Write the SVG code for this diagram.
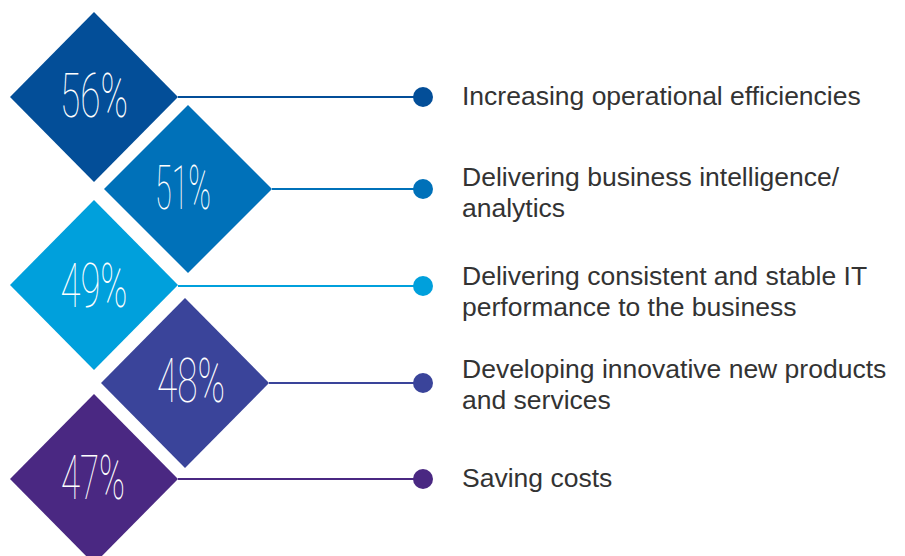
<svg xmlns="http://www.w3.org/2000/svg" width="905" height="556" viewBox="0 0 905 556">
<style>
.pct{font-family:Roboto,"Liberation Sans",sans-serif;font-weight:100;font-size:61px;fill:#fff;text-anchor:middle}
.lbl{font-family:"Liberation Sans",Arial,sans-serif;font-size:26.5px;fill:#333}
.ln{stroke-width:2.2;fill:none}
</style>
<rect width="905" height="556" fill="#fff"/>
<g id="connectors">
<line class="ln" x1="178" y1="97" x2="423" y2="97" stroke="#034E98"/>
<line class="ln" x1="272" y1="189" x2="423" y2="189" stroke="#0071B9"/>
<line class="ln" x1="178" y1="286" x2="423" y2="286" stroke="#00A0DC"/>
<line class="ln" x1="269" y1="383" x2="423" y2="383" stroke="#3A449A"/>
<line class="ln" x1="178" y1="479" x2="423" y2="479" stroke="#4A2882"/>
<circle cx="423" cy="97" r="10" fill="#034E98"/>
<circle cx="423" cy="189" r="10" fill="#0071B9"/>
<circle cx="423" cy="286" r="10" fill="#00A0DC"/>
<circle cx="423" cy="383" r="10" fill="#3A449A"/>
<circle cx="423" cy="479" r="10" fill="#4A2882"/>
</g>
<g id="n56">
<polygon points="94,12 178,97 94,182 10,97" fill="#034E98"/>
<text class="pct" x="94" y="117" textLength="68" lengthAdjust="spacingAndGlyphs">56%</text>
<text class="lbl" x="462" y="105">Increasing operational efficiencies</text>
</g>
<g id="n51">
<polygon points="188,105 272,189 188,273 104,189" fill="#0071B9"/>
<text class="pct" x="183" y="209" textLength="56" lengthAdjust="spacingAndGlyphs">51%</text>
<text class="lbl" x="462" y="186">Delivering business intelligence/</text>
<text class="lbl" x="462" y="217">analytics</text>
</g>
<g id="n49">
<polygon points="94,200 178,285 94,370 10,285" fill="#00A0DC"/>
<text class="pct" x="94" y="307" textLength="67" lengthAdjust="spacingAndGlyphs">49%</text>
<text class="lbl" x="462" y="285">Delivering consistent and stable IT</text>
<text class="lbl" x="462" y="316">performance to the business</text>
</g>
<g id="n48">
<polygon points="185,298 269,383 185,468 101,383" fill="#3A449A"/>
<text class="pct" x="191" y="402" textLength="68" lengthAdjust="spacingAndGlyphs">48%</text>
<text class="lbl" x="462" y="378">Developing innovative new products</text>
<text class="lbl" x="462" y="409">and services</text>
</g>
<g id="n47">
<polygon points="94,394 178,479 94,564 10,479" fill="#4A2882"/>
<text class="pct" x="93" y="499" textLength="64" lengthAdjust="spacingAndGlyphs">47%</text>
<text class="lbl" x="462" y="487">Saving costs</text>
</g>
</svg>
